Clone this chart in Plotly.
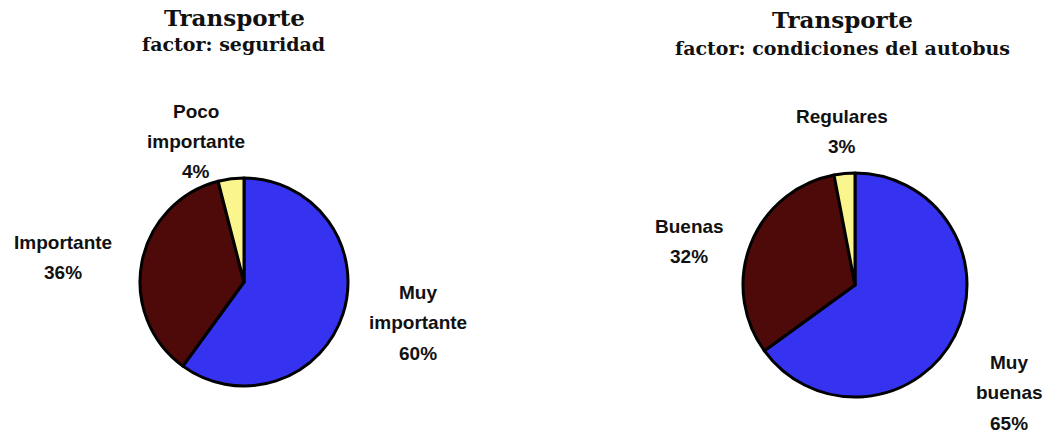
import plotly.graph_objects as go

# Encuesta de transporte: dos factores evaluados
seg_labels = ["Muy importante", "Importante", "Poco importante"]
seg_values = [60, 36, 4]

bus_labels = ["Muy buenas", "Buenas", "Regulares"]
bus_values = [65, 32, 3]

slice_colors = ["#3533f0", "#4e0a08", "#fbf58e"]

W, H = 1059, 433


def px_x(x):
    return x / W


def px_y(y):
    return 1 - y / H


fig = go.Figure()

# Gráfico izquierdo: seguridad
fig.add_trace(go.Pie(
    labels=seg_labels, values=seg_values, sort=False, direction="clockwise",
    rotation=0, textinfo="none", hoverinfo="label+percent",
    marker=dict(colors=slice_colors, line=dict(color="#000000", width=3)),
    domain=dict(x=[px_x(140), px_x(348)], y=[px_y(386), px_y(178)]),
    showlegend=False,
))

# Gráfico derecho: condiciones del autobús
fig.add_trace(go.Pie(
    labels=bus_labels, values=bus_values, sort=False, direction="clockwise",
    rotation=0, textinfo="none", hoverinfo="label+percent",
    marker=dict(colors=slice_colors, line=dict(color="#000000", width=3)),
    domain=dict(x=[px_x(743), px_x(967)], y=[px_y(397), px_y(173)]),
    showlegend=False,
))

label_font = dict(family="Liberation Sans, Arial, sans-serif", size=19,
                  color="#111111", weight="bold")
title_font = dict(family="DejaVu Serif, serif", size=23, color="#111111",
                  weight="bold")
sub_font = dict(family="DejaVu Serif, serif", size=19, color="#111111",
                weight="bold")

annotations = []


def add_text(text, x, y, font):
    annotations.append(dict(text=text, x=px_x(x), y=px_y(y), xref="paper",
                            yref="paper", showarrow=False, font=font,
                            xanchor="center", yanchor="middle"))


# Títulos
add_text("Transporte", 234, 17, title_font)
add_text("factor: seguridad", 233, 44, sub_font)
add_text("Transporte", 842, 19, title_font)
add_text("factor: condiciones del autobus", 842, 48, sub_font)

# Etiquetas exteriores: (centro x, y de la primera línea) por sector
seg_pos = [(418, 292), (63, 242), (196, 111)]
bus_pos = [(1009, 362), (689, 226), (842, 116)]
line_gap = 30.5


def add_slice_labels(labels, values, positions):
    total = sum(values)
    for lab, val, (cx, cy) in zip(labels, values, positions):
        lines = lab.split(" ") + [f"{round(100 * val / total)}%"]
        for i, line in enumerate(lines):
            add_text(line, cx, cy + i * line_gap, label_font)


add_slice_labels(seg_labels, seg_values, seg_pos)
add_slice_labels(bus_labels, bus_values, bus_pos)

fig.update_layout(
    width=W, height=H,
    margin=dict(l=0, r=0, t=0, b=0),
    paper_bgcolor="#ffffff", plot_bgcolor="#ffffff",
    annotations=annotations,
)

fig.write_html("out.html")
